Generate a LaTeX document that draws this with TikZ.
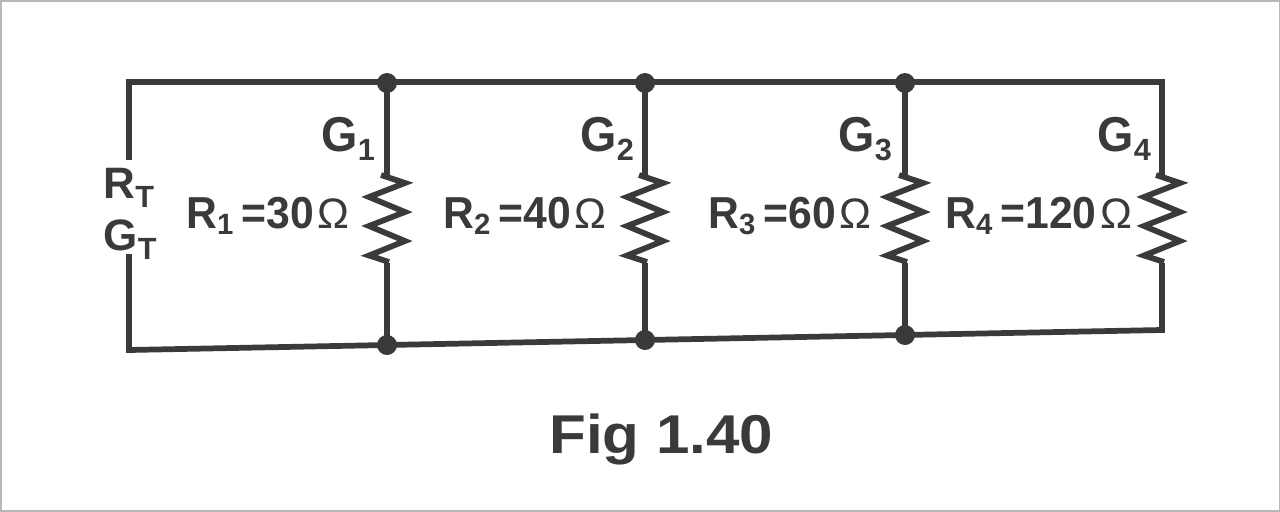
\documentclass[tikz,border=0pt]{standalone}
\usepackage{fontspec}
\setmainfont{Liberation Sans}
\definecolor{ink}{HTML}{3A3A3A}
\definecolor{edge}{HTML}{B8B8B8}
\newcommand{\gsub}[2]{\scalebox{1}[1.05]{\fontsize{35}{35}\selectfont\bfseries #1}\hspace{0.2pt}\raisebox{-7pt}{\fontsize{23}{23}\selectfont\bfseries #2}}
\newcommand{\tsub}[2]{{\fontsize{33}{33}\selectfont\bfseries #1}\hspace{0.2pt}\raisebox{-7pt}{\fontsize{23}{23}\selectfont\bfseries #2}}
\newcommand{\rval}[3]{\scalebox{1}[1.05]{\fontsize{32}{32}\selectfont\bfseries R}\raisebox{-5pt}{\fontsize{22}{22}\selectfont\bfseries #1}\hspace{6pt}\scalebox{1}[1.05]{\fontsize{32}{32}\selectfont\bfseries =#2}\hspace{3pt}{\fontsize{32}{32}\selectfont #3}}
\begin{document}
\begin{tikzpicture}[x=0.75pt,y=-0.75pt,
  wire/.style={draw=ink,line width=4.3pt,line join=miter},
  zig/.style={draw=ink,line width=4.3pt,line join=miter},
  dot/.style={circle,fill=ink,inner sep=0pt,minimum size=15pt},
  txt/.style={inner sep=0pt,text=ink,anchor=base west}]
\useasboundingbox (0,0) rectangle (1280,511);
\draw[edge,line width=1.5pt] (0.5,0.5) rectangle (1279.5,510.5);
\coordinate (tl) at (129,82);
\coordinate (tr) at (1162,82);
\coordinate (bl) at (129,350);
\coordinate (br) at (1162,330);
\coordinate (lu) at (129,160);
\coordinate (ld) at (129,254);
\coordinate (rt4) at (1162,175);
\coordinate (rb4) at (1162,263);
% outer loop
\draw[wire] (lu) -- (tl) -- (tr) -- (rt4);
\draw[wire] (ld) -- (bl) -- (br) -- (rb4);
% branches and resistors
\foreach \n/\xx/\yy in {1/387/345,2/645/340,3/905/335}{
  \coordinate (rt\n) at (\xx,175);
  \coordinate (rb\n) at (\xx,263);
  \draw[wire] (\xx,82) -- (rt\n);
  \draw[wire] (rb\n) -- (\xx,\yy);
}
\foreach \xx in {387,645,905,1162}{
  \draw[zig] (\xx-6,175) -- (\xx+18,183) -- (\xx-18,197) -- (\xx+18,212) -- (\xx-18,226) -- (\xx+18,241) -- (\xx-18,255.5) -- (\xx+2,262);
}
\node[dot] (t1) at (387,83) {};
\node[dot] (t2) at (645,83) {};
\node[dot] (t3) at (905,83) {};
\node[dot] (b1) at (387,345) {};
\node[dot] (b2) at (645,340) {};
\node[dot] (b3) at (905,335) {};
% labels
\node[txt] (g1) at (321,151) {\gsub{G}{1}};
\node[txt] (g2) at (580,151) {\gsub{G}{2}};
\node[txt] (g3) at (838,151) {\gsub{G}{3}};
\node[txt] (g4) at (1097,151) {\gsub{G}{4}};
\node[txt] (rt) at (103,198) {\tsub{R}{T}};
\node[txt] (gt) at (103,250) {\tsub{G}{T}};
\node[txt] (r1) at (186,228) {\rval{1}{30}{Ω}};
\node[txt] (r2) at (443,228) {\rval{2}{40}{Ω}};
\node[txt] (r3) at (708,228) {\rval{3}{60}{Ω}};
\node[txt] (r4) at (945,228) {\rval{4}{120}{Ω}};
\node[txt] (fig) at (549,453) {\scalebox{1.1}[1]{\fontsize{41}{41}\selectfont\bfseries Fig 1.40}};
\end{tikzpicture}
\end{document}
